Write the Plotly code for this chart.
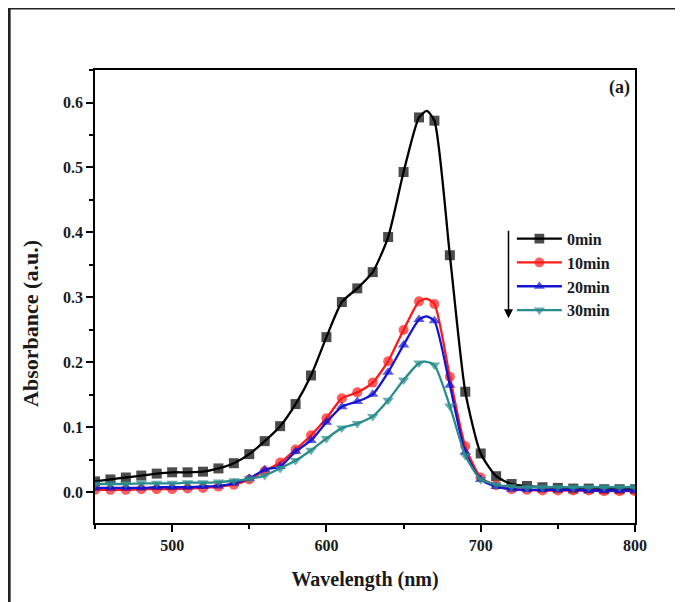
import plotly.graph_objects as go

wavelength = [450, 460, 470, 480, 490, 500, 510, 520, 530, 540, 550, 560, 570, 580, 590,
              600, 610, 620, 630, 640, 650, 660, 665, 670, 680, 690, 700, 710, 720, 730,
              740, 750, 760, 770, 780, 790, 800]

abs_0min = [0.017, 0.020, 0.023, 0.026, 0.029, 0.031, 0.031, 0.032, 0.037, 0.045, 0.059, 0.079,
            0.102, 0.136, 0.180, 0.239, 0.293, 0.314, 0.339, 0.393, 0.493, 0.577, 0.587, 0.572,
            0.365, 0.155, 0.060, 0.025, 0.013, 0.010, 0.008, 0.007, 0.006, 0.006, 0.005, 0.005,
            0.005]
abs_10min = [0.004, 0.004, 0.004, 0.005, 0.005, 0.005, 0.006, 0.007, 0.009, 0.012, 0.020, 0.033,
             0.046, 0.066, 0.088, 0.114, 0.145, 0.154, 0.169, 0.202, 0.250, 0.294, 0.298, 0.290,
             0.178, 0.071, 0.023, 0.011, 0.005, 0.004, 0.003, 0.003, 0.003, 0.003, 0.002, 0.002,
             0.002]
abs_20min = [0.007, 0.007, 0.007, 0.007, 0.008, 0.008, 0.008, 0.009, 0.010, 0.014, 0.022, 0.035,
             0.040, 0.063, 0.080, 0.108, 0.132, 0.140, 0.151, 0.185, 0.227, 0.266, 0.271, 0.264,
             0.165, 0.062, 0.020, 0.009, 0.005, 0.004, 0.004, 0.004, 0.004, 0.003, 0.003, 0.003,
             0.003]
abs_30min = [0.013, 0.013, 0.013, 0.014, 0.014, 0.014, 0.015, 0.015, 0.016, 0.018, 0.021, 0.026,
             0.037, 0.049, 0.065, 0.083, 0.099, 0.106, 0.117, 0.142, 0.173, 0.199, 0.201, 0.196,
             0.133, 0.057, 0.020, 0.012, 0.009, 0.008, 0.008, 0.008, 0.008, 0.008, 0.008, 0.008,
             0.008]

series_names = ["0min", "10min", "20min", "30min"]
series_values = [abs_0min, abs_10min, abs_20min, abs_30min]
colors = ["#000000", "#ff1a1a", "#1414d2", "#2a8c8c"]
symbols = ["square", "circle", "triangle-up", "triangle-down"]

FONT = "Liberation Serif"
TXT = "#1a1a1a"

fig = go.Figure()
msizes = [10 if w % 10 == 0 else 0 for w in wavelength]
for name, vals, col, sym in zip(series_names, series_values, colors, symbols):
    fig.add_trace(go.Scatter(
        x=wavelength, y=vals, name=name, mode="lines+markers",
        line=dict(color=col, width=2.3, shape="spline", smoothing=0.6),
        marker=dict(color=col, symbol=sym, size=msizes, line=dict(width=0)),
    ))

axis_common = dict(
    showline=True, linecolor="black", linewidth=1.5, mirror=True,
    ticks="outside", ticklen=7, tickwidth=1.5, tickcolor="black",
    showgrid=False, zeroline=False,
    tickfont=dict(family=FONT, size=16, color=TXT, weight="bold"),
)

fig.update_xaxes(range=[450, 800], tickvals=[500, 600, 700, 800],
                 minor=dict(ticks="outside", ticklen=4, tickwidth=1.5, tickcolor="black",
                            dtick=50, tick0=450),
                 title=dict(text="Wavelength (nm)", standoff=19,
                            font=dict(family=FONT, size=20, color=TXT, weight="bold")),
                 **axis_common)
fig.update_yaxes(range=[-0.047, 0.65], tickvals=[0.0, 0.1, 0.2, 0.3, 0.4, 0.5, 0.6],
                 tickformat=".1f",
                 minor=dict(ticks="outside", ticklen=4, tickwidth=1.5, tickcolor="black",
                            dtick=0.05, tick0=0),
                 **axis_common)

# y-axis title (placed as rotated text to match the reference position)
fig.add_annotation(text="Absorbance (a.u.)", xref="paper", yref="paper",
                   x=-0.12, y=0.44, xanchor="center", yanchor="middle",
                   textangle=-90, showarrow=False,
                   font=dict(family=FONT, size=22, color=TXT, weight="bold"))

fig.add_annotation(text="(a)", xref="paper", yref="paper", x=0.994, y=0.962,
                   xanchor="right", yanchor="middle", showarrow=False,
                   font=dict(family=FONT, size=18, color=TXT, weight="bold"))

fig.add_annotation(x=718, y=0.268, ax=718, ay=0.405, xref="x", yref="y",
                   axref="x", ayref="y", text="", showarrow=True,
                   arrowhead=2, arrowsize=1.2, arrowwidth=1.5, arrowcolor="black")

fig.add_shape(type="rect", xref="paper", yref="paper",
              x0=-0.159, x1=1.2, y0=-0.3, y1=1.137,
              line=dict(color="#222", width=3), layer="above")

fig.update_layout(
    width=683, height=602,
    margin=dict(l=87, r=56, t=62, b=87),
    paper_bgcolor="white", plot_bgcolor="white",
    showlegend=True,
    legend=dict(x=0.772, y=0.665, xanchor="left", yanchor="top",
                bgcolor="rgba(0,0,0,0)", borderwidth=0, itemwidth=45,
                font=dict(family=FONT, size=16, color=TXT, weight="bold"),
                tracegroupgap=0),
)

fig.write_html("out.html")
